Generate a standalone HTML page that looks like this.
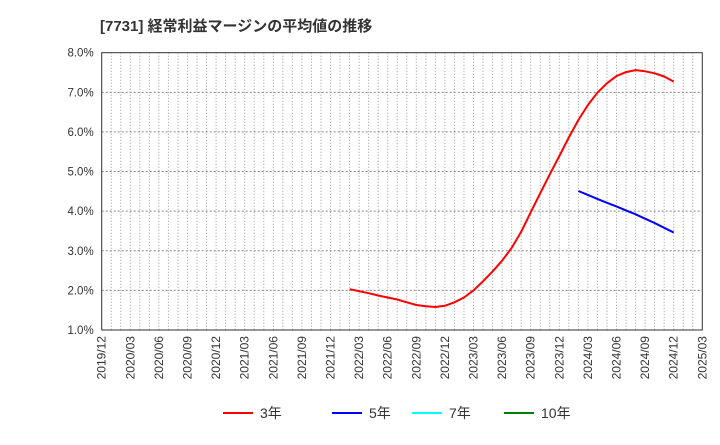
<!DOCTYPE html>
<html><head><meta charset="utf-8"><style>
body{margin:0;background:#fff;font-family:"Liberation Sans","Noto Sans CJK JP",sans-serif}
svg text{font-family:"Liberation Sans","Noto Sans CJK JP",sans-serif}
</style></head><body>
<svg id="c" width="720" height="440" viewBox="0 0 720 440">
<text x="100" y="31" font-size="15" font-weight="bold" fill="#333">[7731]  経常利益マージンの平均値の推移</text>
</svg>
<script>
const xLabels=["2019/12","2020/03","2020/06","2020/09","2020/12","2021/03","2021/06","2021/09","2021/12","2022/03","2022/06","2022/09","2022/12","2023/03","2023/06","2023/09","2023/12","2024/03","2024/06","2024/09","2024/12","2025/03"];
const yTicks=[1,2,3,4,5,6,7,8];
const s3Start=26;
const s3=[2.03,1.98,1.93,1.87,1.82,1.77,1.70,1.63,1.60,1.58,1.61,1.70,1.82,2.0,2.23,2.48,2.75,3.07,3.48,3.97,4.45,4.93,5.39,5.86,6.30,6.68,6.99,7.23,7.41,7.51,7.56,7.53,7.48,7.40,7.27];
const s5Start=50;
const s5=[4.51,4.41,4.31,4.21,4.12,4.02,3.92,3.81,3.70,3.58,3.46];
const L=101.7,R=702.3,T=52.7,B=330,NM=63;
const X=m=>L+(R-L)*m/NM;
const Y=v=>B-(v-1)/7*(B-T);
const svg=document.getElementById('c');
const NS='http://www.w3.org/2000/svg';
function mk(t,a){const e=document.createElementNS(NS,t);for(const k in a)e.setAttribute(k,a[k]);svg.appendChild(e);return e;}
for(let m=1;m<NM;m++){const e=mk('line',{x1:X(m),x2:X(m),y1:T,y2:B,stroke:'#999','stroke-dasharray':'1,2','stroke-width':1});

}
yTicks.forEach(v=>{if(v>1&&v<8){const e=mk('line',{x1:L,x2:R,y1:Y(v),y2:Y(v),stroke:'#888','stroke-dasharray':'2,2','stroke-width':1});

}
const t=mk('text',{x:L-8,y:Y(v)+4,'text-anchor':'end','font-size':11.5,fill:'#333'});t.textContent=v.toFixed(1)+'%';

});
const fr=mk('rect',{x:L,y:T,width:R-L,height:B-T,fill:'none',stroke:'#333','stroke-width':1});


xLabels.forEach((l,i)=>{const x=X(i*3)+4,y=B+6;const t=mk('text',{x:x,y:y,'text-anchor':'end','font-size':12,fill:'#333',transform:`rotate(-90 ${x} ${y})`});t.textContent=l;

});
function line(arr,st,col,name){const p=arr.map((v,i)=>X(st+i).toFixed(1)+','+Y(v).toFixed(1)).join(' ');
const e=mk('polyline',{points:p,fill:'none',stroke:col,'stroke-width':2,'stroke-linejoin':'round'});

}
line(s3,s3Start,'#ff0000','series-3y');
line(s5,s5Start,'#0000ff','series-5y');
const leg=[['3年','#ff0000',223],['5年','#0000ff',332],['7年','#00ffff',412],['10年','#008000',504]];
leg.forEach(([n,c,x])=>{const l=mk('line',{x1:x,x2:x+30,y1:413,y2:413,stroke:c,'stroke-width':2});


const t=mk('text',{x:x+37,y:418,'font-size':14,fill:'#333'});t.textContent=n;

});
</script>
</body></html>
